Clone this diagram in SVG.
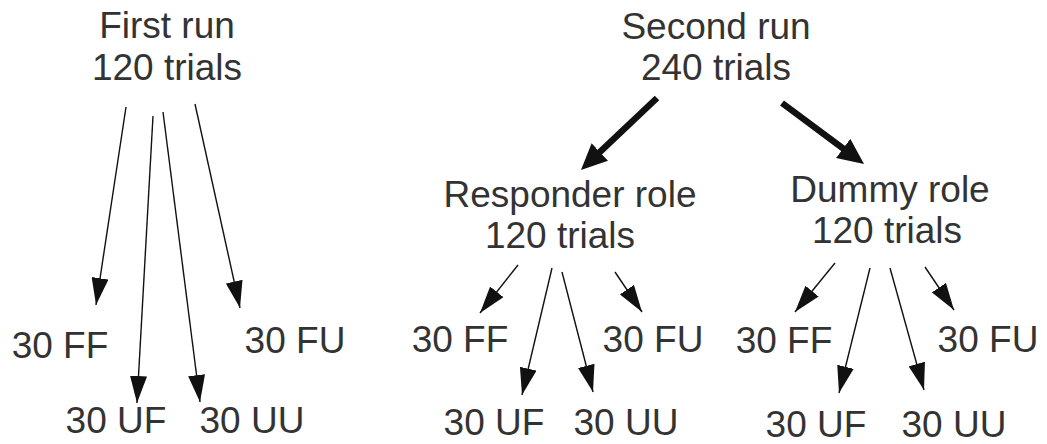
<svg xmlns="http://www.w3.org/2000/svg" width="1047" height="444" viewBox="0 0 1047 444">
<style>
text { font-family: "Liberation Sans", Arial, sans-serif; font-size: 37px; fill: #333; text-anchor: middle; }
.thin { stroke: #111; stroke-width: 1.4; fill: none; marker-end: url(#head); }
.thick { stroke: #111; stroke-width: 6.5; fill: none; marker-end: url(#bighead); }
</style>
<defs>
<marker id="head" markerUnits="userSpaceOnUse" markerWidth="27" markerHeight="17" refX="27" refY="8.5" orient="auto" viewBox="0 0 27 17">
<path d="M0,0 L27,8.5 L0,17 z" fill="#111"/>
</marker>
<marker id="bighead" markerUnits="userSpaceOnUse" markerWidth="26" markerHeight="24" refX="14" refY="12" orient="auto" viewBox="0 0 26 24">
<path d="M0,0 L26,12 L0,24 z" fill="#111"/>
</marker>
</defs>
<rect width="1047" height="444" fill="#fff"/>
<g id="connectors">
<line class="thin" x1="126" y1="107" x2="96" y2="305"/>
<line class="thin" x1="153" y1="116" x2="137" y2="403"/>
<line class="thin" x1="163" y1="112" x2="200" y2="402"/>
<line class="thin" x1="195" y1="104" x2="240" y2="308"/>
<line class="thick" x1="657" y1="98" x2="589.7" y2="161.7"/>
<line class="thick" x1="782" y1="103" x2="854.4" y2="156.8"/>
<line class="thin" x1="518" y1="265" x2="480" y2="313"/>
<line class="thin" x1="552" y1="268" x2="522" y2="395"/>
<line class="thin" x1="562" y1="272" x2="593" y2="392"/>
<line class="thin" x1="615" y1="272" x2="642" y2="312"/>
<line class="thin" x1="835" y1="263" x2="795" y2="312"/>
<line class="thin" x1="870" y1="268" x2="839" y2="393"/>
<line class="thin" x1="890" y1="268" x2="924" y2="390"/>
<line class="thin" x1="925" y1="267" x2="954" y2="310"/>
</g>
<g id="first-run"><text x="167" y="38">First run</text><text x="167" y="80">120 trials</text></g>
<g id="first-ff"><text x="60" y="358">30 FF</text></g>
<g id="first-fu"><text x="295" y="353">30 FU</text></g>
<g id="first-uf"><text x="116" y="433">30 UF</text></g>
<g id="first-uu"><text x="252" y="433">30 UU</text></g>
<g id="second-run"><text x="716" y="39">Second run</text><text x="716" y="80">240 trials</text></g>
<g id="responder"><text x="570" y="207">Responder role</text><text x="560" y="248">120 trials</text></g>
<g id="resp-ff"><text x="460" y="352">30 FF</text></g>
<g id="resp-fu"><text x="653" y="352">30 FU</text></g>
<g id="resp-uf"><text x="494" y="435">30 UF</text></g>
<g id="resp-uu"><text x="626" y="435">30 UU</text></g>
<g id="dummy"><text x="890" y="202">Dummy role</text><text x="887" y="243">120 trials</text></g>
<g id="dummy-ff"><text x="784" y="353">30 FF</text></g>
<g id="dummy-fu"><text x="988" y="352">30 FU</text></g>
<g id="dummy-uf"><text x="816" y="437">30 UF</text></g>
<g id="dummy-uu"><text x="954" y="437">30 UU</text></g>
</svg>
